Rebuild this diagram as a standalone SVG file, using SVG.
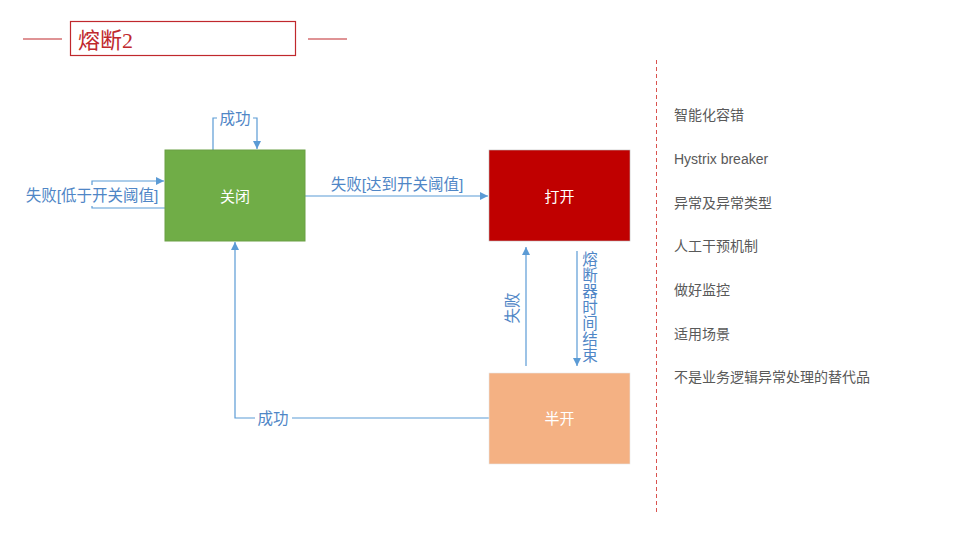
<svg xmlns="http://www.w3.org/2000/svg" width="960" height="540" viewBox="0 0 960 540">
<defs>
<marker id="ah" viewBox="0 0 10 10" refX="10" refY="5" markerWidth="8" markerHeight="8" markerUnits="userSpaceOnUse" orient="auto"><path d="M0,0 L10,5 L0,10 Z" fill="#5B9BD5"/></marker>
<style>
.ln{fill:none;stroke:#5B9BD5;stroke-width:1.2}
.lb{font-family:"Liberation Sans","Noto Sans CJK SC",sans-serif;font-size:15.5px;fill:#4F86C6}
.nt{font-family:"Liberation Sans","Noto Sans CJK SC",sans-serif;font-size:15px;fill:#fff;text-anchor:middle;dominant-baseline:central}
.it{font-family:"Liberation Sans","Noto Sans CJK SC",sans-serif;font-size:14px;fill:#595959}
.bg{fill:#fff}
</style>
</defs>
<rect width="960" height="540" fill="#fff"/>
<g id="title">
<line x1="23" y1="39" x2="62" y2="39" stroke="#C0282D" stroke-width="1.2"/>
<line x1="308" y1="39" x2="347" y2="39" stroke="#C0282D" stroke-width="1.2"/>
<rect x="70.5" y="21.5" width="225" height="34" fill="none" stroke="#C0282D" stroke-width="1.2"/>
<text x="78" y="48" font-family="'Liberation Serif','Noto Sans CJK SC',serif" font-size="22" fill="#C0282D">熔断2</text>
</g>
<g id="connectors">
<path class="ln" d="M213,150 V118 H257 V149" marker-end="url(#ah)"/>
<rect class="bg" x="217" y="107" width="36" height="22"/>
<text class="lb" x="235" y="124" text-anchor="middle">成功</text>
<path class="ln" d="M165,208 H92 V181 H164" marker-end="url(#ah)"/>
<rect class="bg" x="23" y="185" width="140" height="21"/>
<text class="lb" x="92" y="201" text-anchor="middle">失败[低于开关阈值]</text>
<path class="ln" d="M305,196 H488" marker-end="url(#ah)"/>
<text class="lb" x="397" y="190" text-anchor="middle">失败[达到开关阈值]</text>
<path class="ln" d="M577,251 V366" marker-end="url(#ah)"/>
<text class="lb" text-anchor="middle"><tspan x="590" y="265">熔</tspan><tspan x="590" y="281">断</tspan><tspan x="590" y="297">器</tspan><tspan x="590" y="313">时</tspan><tspan x="590" y="329">间</tspan><tspan x="590" y="345">结</tspan><tspan x="590" y="361">束</tspan></text>
<path class="ln" d="M526,366 V247" marker-end="url(#ah)"/>
<text class="lb" transform="translate(518,308) rotate(-90)" text-anchor="middle">失败</text>
<path class="ln" d="M489,418 H235 V242" marker-end="url(#ah)"/>
<rect class="bg" x="255" y="407" width="37" height="22"/>
<text class="lb" x="273" y="424" text-anchor="middle">成功</text>
</g>
<g id="closed">
<rect x="165" y="150" width="140" height="91" fill="#70AD47" stroke="#6A9F45" stroke-width="1"/>
<text class="nt" x="235" y="196">关闭</text>
</g>
<g id="open">
<rect x="489" y="150" width="141" height="91" fill="#C00000" stroke="#B8B8B8" stroke-width="0.6"/>
<text class="nt" x="559.5" y="196">打开</text>
</g>
<g id="halfopen">
<rect x="489" y="373" width="141" height="91" fill="#F4B183" stroke="#E8E8E8" stroke-width="0.6"/>
<text class="nt" x="559.5" y="418">半开</text>
</g>
<g id="sidebar">
<line x1="656.5" y1="60" x2="656.5" y2="513" stroke="#D9534F" stroke-width="1" stroke-dasharray="4,3"/>
<text class="it" x="674" y="120">智能化容错</text>
<text class="it" x="674" y="164">Hystrix breaker</text>
<text class="it" x="674" y="208">异常及异常类型</text>
<text class="it" x="674" y="251">人工干预机制</text>
<text class="it" x="674" y="295">做好监控</text>
<text class="it" x="674" y="339">适用场景</text>
<text class="it" x="674" y="382">不是业务逻辑异常处理的替代品</text>
</g>
</svg>
